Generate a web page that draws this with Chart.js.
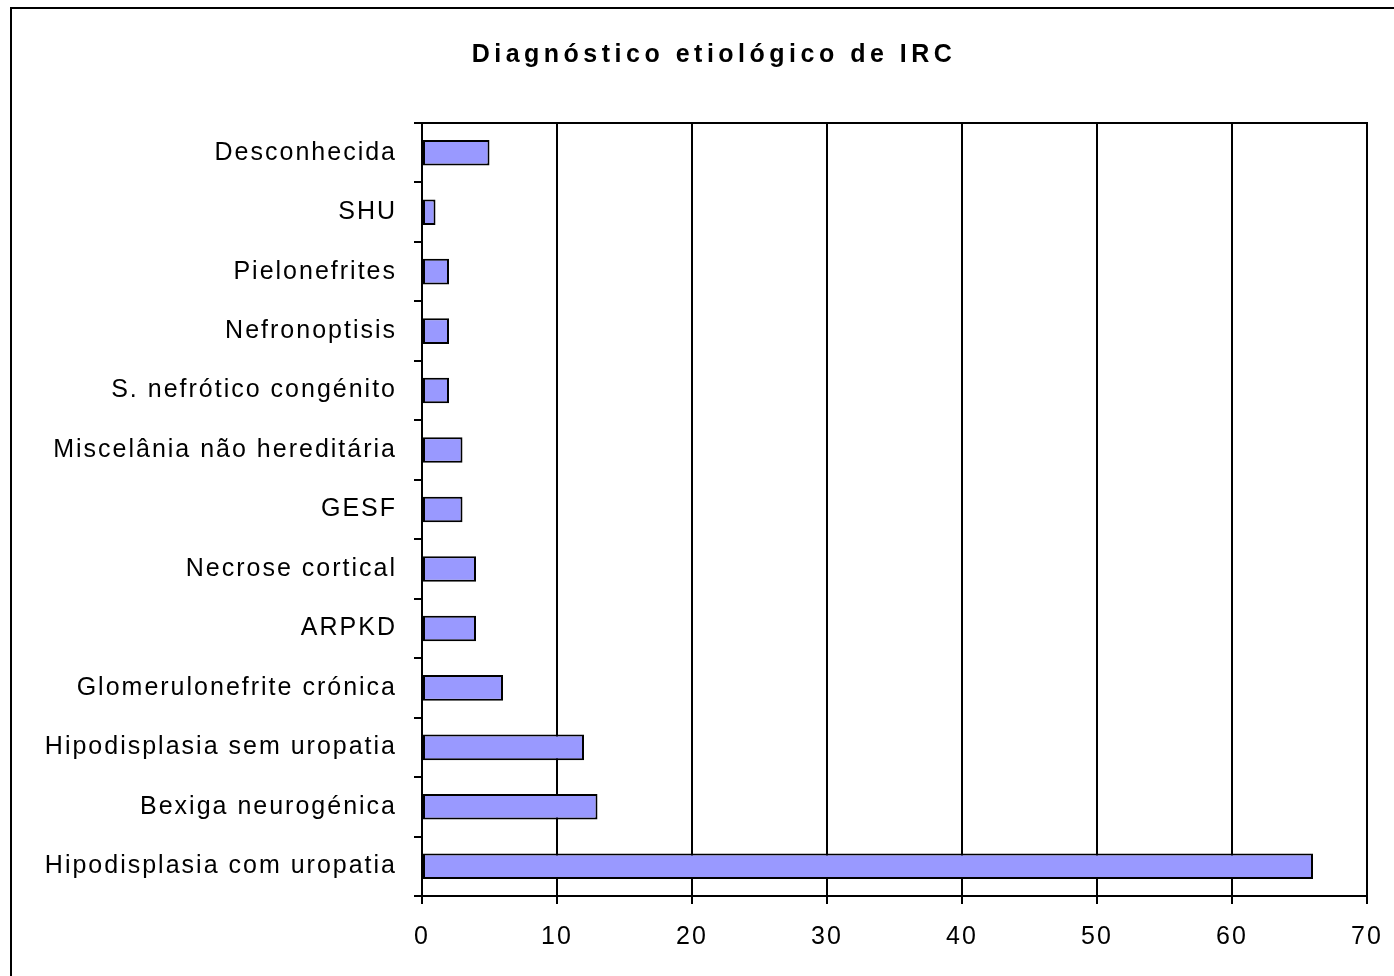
<!DOCTYPE html>
<html>
<head>
<meta charset="utf-8">
<script src="https://cdn.jsdelivr.net/npm/chart.js@4.4.1/dist/chart.umd.min.js"></script>
<style>
  html, body { margin: 0; padding: 0; background: #fff; }
  #wrap { width: 1394px; height: 976px; }
</style>
</head>
<body>
<div id="wrap"><canvas id="diagChart" width="1394" height="976"></canvas></div>
<script>
// Chart data
const chartTitle = 'Diagnóstico etiológico de IRC';
const categories = [
    'Desconhecida',
    'SHU',
    'Pielonefrites',
    'Nefronoptisis',
    'S. nefrótico congénito',
    'Miscelânia não hereditária',
    'GESF',
    'Necrose cortical',
    'ARPKD',
    'Glomerulonefrite crónica',
    'Hipodisplasia sem uropatia',
    'Bexiga neurogénica',
    'Hipodisplasia com uropatia'
];
const counts = [5, 1, 2, 2, 2, 3, 3, 4, 4, 6, 12, 13, 66];
const axisMin = 0;
const axisMax = 70;
const axisStep = 10;

const labelFont = { family: "'Liberation Sans', Arial, sans-serif", size: 25 };

// letter spacing to mimic the wide text of the original
const spacingPlugin = {
    id: 'spacing',
    beforeUpdate(chart) { chart.ctx.letterSpacing = '2px'; },
    beforeDraw(chart) {
        const ctx = chart.ctx;
        ctx.letterSpacing = '2px';
        // white background + outer frame
        ctx.save();
        ctx.fillStyle = '#fff';
        ctx.fillRect(0, 0, chart.width, chart.height);
        ctx.strokeStyle = '#000';
        ctx.lineWidth = 2;
        ctx.strokeRect(11, 8, 1404, 1000);
        ctx.restore();
    },
    afterDraw(chart) {
        const ctx = chart.ctx;
        const area = chart.chartArea;
        ctx.save();
        // top edge of plot frame
        ctx.strokeStyle = '#000';
        ctx.lineWidth = 2;
        ctx.beginPath();
        ctx.moveTo(area.left, area.top);
        ctx.lineTo(area.right + 1, area.top);
        ctx.stroke();
        // title
        ctx.letterSpacing = '4.5px';
        ctx.font = "bold 25px 'Liberation Sans', Arial, sans-serif";
        ctx.fillStyle = '#000';
        ctx.textAlign = 'center';
        ctx.textBaseline = 'alphabetic';
        ctx.fillText(chartTitle, 714, 62);
        ctx.restore();
    }
};

const ctx = document.getElementById('diagChart').getContext('2d');
const diagChart = new Chart(ctx, {
    type: 'bar',
    data: {
        labels: categories,
        datasets: [{
            data: counts,
            backgroundColor: '#9999FF',
            borderColor: '#000',
            borderWidth: 2,
            borderSkipped: false,
            barPercentage: 0.43,
            categoryPercentage: 1.0
        }]
    },
    options: {
        indexAxis: 'y',
        responsive: false,
        animation: false,
        layout: { padding: { top: 123, right: 27, bottom: 0, left: 0 } },
        plugins: {
            legend: { display: false },
            title: { display: false },
            tooltip: { enabled: false }
        },
        scales: {
            x: {
                min: axisMin,
                max: axisMax,
                afterFit: (scale) => {
                    scale.height = 80;
                    scale.paddingLeft = 0;
                    scale.paddingRight = 0;
                },
                grid: {
                    color: '#000',
                    lineWidth: 2,
                    tickLength: 8,
                    drawTicks: true
                },
                border: { display: true, color: '#000', width: 2 },
                ticks: {
                    stepSize: axisStep,
                    color: '#000',
                    font: labelFont,
                    padding: 18,
                    maxRotation: 0
                }
            },
            y: {
                afterFit: (scale) => { scale.width = 422; },
                grid: {
                    offset: true,
                    drawOnChartArea: false,
                    color: '#000',
                    lineWidth: 2,
                    tickLength: 8
                },
                border: { display: true, color: '#000', width: 2 },
                ticks: {
                    color: '#000',
                    font: labelFont,
                    padding: 17,
                    autoSkip: false
                }
            }
        }
    },
    plugins: [spacingPlugin]
});
</script>
</body>
</html>
